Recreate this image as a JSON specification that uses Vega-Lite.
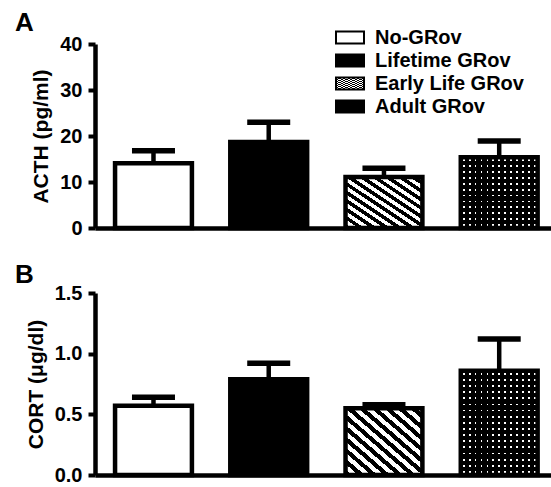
{
  "$schema": "https://vega.github.io/schema/vega-lite/v6.json",
  "padding": {"left": 15, "top": 10, "right": 0, "bottom": 5},
  "bounds": "flush",
  "spacing": 65,
  "datasets": {
    "acth": [
      {"group": "No-GRov", "value": 14.1, "upper": 16.8},
      {"group": "Lifetime GRov", "value": 18.7, "upper": 23.0},
      {"group": "Early Life GRov", "value": 11.1, "upper": 13.0},
      {"group": "Adult GRov", "value": 15.4, "upper": 18.9}
    ],
    "cort": [
      {"group": "No-GRov", "value": 0.57, "upper": 0.64},
      {"group": "Lifetime GRov", "value": 0.79, "upper": 0.92},
      {"group": "Early Life GRov", "value": 0.55, "upper": 0.58},
      {"group": "Adult GRov", "value": 0.86, "upper": 1.12}
    ]
  },
  "vconcat": [
    {
      "title": {"text": "A", "offset": -8.5},
      "width": 456,
      "height": 184,
      "data": {"name": "acth"},
      "encoding": {
        "x": {"field": "group", "type": "nominal", "sort": ["No-GRov", "Lifetime GRov", "Early Life GRov", "Adult GRov"], "scale": {"paddingInner": 0.333, "paddingOuter": 0.145, "align": 0.6}, "axis": {"labels": false, "ticks": false, "title": null}},
        "y": {"field": "value", "type": "quantitative", "title": "ACTH (pg/ml)", "scale": {"domain": [0, 40], "nice": false}, "axis": {"values": [0, 10, 20, 30, 40]}}
      },
      "layer": [
        {
          "mark": {"type": "bar", "stroke": "black", "strokeWidth": 4.5},
          "encoding": {
            "fill": {
              "field": "group", "type": "nominal",
              "scale": {
                "domain": ["No-GRov", "Lifetime GRov", "Early Life GRov", "Adult GRov"],
                "range": [
                  "#ffffff",
                  "#000000",
                  {"expr": "{gradient:'linear',x1:0,y1:1,x2:1,y2:0,stops:[{offset:0,color:'#000'},{offset:0.042,color:'#000'},{offset:0.042,color:'#fff'},{offset:0.083,color:'#fff'},{offset:0.083,color:'#000'},{offset:0.125,color:'#000'},{offset:0.125,color:'#fff'},{offset:0.167,color:'#fff'},{offset:0.167,color:'#000'},{offset:0.208,color:'#000'},{offset:0.208,color:'#fff'},{offset:0.25,color:'#fff'},{offset:0.25,color:'#000'},{offset:0.292,color:'#000'},{offset:0.292,color:'#fff'},{offset:0.333,color:'#fff'},{offset:0.333,color:'#000'},{offset:0.375,color:'#000'},{offset:0.375,color:'#fff'},{offset:0.417,color:'#fff'},{offset:0.417,color:'#000'},{offset:0.458,color:'#000'},{offset:0.458,color:'#fff'},{offset:0.5,color:'#fff'},{offset:0.5,color:'#000'},{offset:0.542,color:'#000'},{offset:0.542,color:'#fff'},{offset:0.583,color:'#fff'},{offset:0.583,color:'#000'},{offset:0.625,color:'#000'},{offset:0.625,color:'#fff'},{offset:0.667,color:'#fff'},{offset:0.667,color:'#000'},{offset:0.708,color:'#000'},{offset:0.708,color:'#fff'},{offset:0.75,color:'#fff'},{offset:0.75,color:'#000'},{offset:0.792,color:'#000'},{offset:0.792,color:'#fff'},{offset:0.833,color:'#fff'},{offset:0.833,color:'#000'},{offset:0.875,color:'#000'},{offset:0.875,color:'#fff'},{offset:0.917,color:'#fff'},{offset:0.917,color:'#000'},{offset:0.958,color:'#000'},{offset:0.958,color:'#fff'},{offset:1,color:'#fff'}]}"},
                  {"expr": "{gradient:'linear',x1:0,y1:0,x2:0,y2:1,stops:[{offset:0,color:'#000'},{offset:0.029,color:'#000'},{offset:0.029,color:'#fff'},{offset:0.054,color:'#fff'},{offset:0.054,color:'#000'},{offset:0.112,color:'#000'},{offset:0.112,color:'#fff'},{offset:0.138,color:'#fff'},{offset:0.138,color:'#000'},{offset:0.196,color:'#000'},{offset:0.196,color:'#fff'},{offset:0.221,color:'#fff'},{offset:0.221,color:'#000'},{offset:0.279,color:'#000'},{offset:0.279,color:'#fff'},{offset:0.304,color:'#fff'},{offset:0.304,color:'#000'},{offset:0.362,color:'#000'},{offset:0.362,color:'#fff'},{offset:0.388,color:'#fff'},{offset:0.388,color:'#000'},{offset:0.446,color:'#000'},{offset:0.446,color:'#fff'},{offset:0.471,color:'#fff'},{offset:0.471,color:'#000'},{offset:0.529,color:'#000'},{offset:0.529,color:'#fff'},{offset:0.554,color:'#fff'},{offset:0.554,color:'#000'},{offset:0.612,color:'#000'},{offset:0.612,color:'#fff'},{offset:0.638,color:'#fff'},{offset:0.638,color:'#000'},{offset:0.696,color:'#000'},{offset:0.696,color:'#fff'},{offset:0.721,color:'#fff'},{offset:0.721,color:'#000'},{offset:0.779,color:'#000'},{offset:0.779,color:'#fff'},{offset:0.804,color:'#fff'},{offset:0.804,color:'#000'},{offset:0.862,color:'#000'},{offset:0.862,color:'#fff'},{offset:0.888,color:'#fff'},{offset:0.888,color:'#000'},{offset:0.946,color:'#000'},{offset:0.946,color:'#fff'},{offset:0.971,color:'#fff'},{offset:0.971,color:'#000'},{offset:1,color:'#000'}]}"}
                ]
              },
              "legend": {
                "title": null, "orient": "none", "legendX": 245, "legendY": -16.5,
                "symbolType": "M-2,-0.86H2V0.86H-2Z", "symbolSize": 196,
                "symbolStrokeColor": "black", "symbolStrokeWidth": 2,
                "labelFontSize": 20, "labelFontWeight": "bold", "labelColor": "black",
                "labelOffset": 15, "rowPadding": 1, "padding": 0
              }
            }
          }
        },
        {
          "transform": [{"filter": "datum.group === 'Adult GRov'"}],
          "mark": {"type": "bar", "strokeWidth": 0, "fill": {"gradient": "linear", "x1": 0, "y1": 0, "x2": 1, "y2": 0, "stops": [
            {"offset": 0, "color": "#000"},
            {"offset": 0.027, "color": "#000"}, {"offset": 0.027, "color": "transparent"}, {"offset": 0.05, "color": "transparent"}, {"offset": 0.05, "color": "#000"},
            {"offset": 0.104, "color": "#000"}, {"offset": 0.104, "color": "transparent"}, {"offset": 0.127, "color": "transparent"}, {"offset": 0.127, "color": "#000"},
            {"offset": 0.181, "color": "#000"}, {"offset": 0.181, "color": "transparent"}, {"offset": 0.204, "color": "transparent"}, {"offset": 0.204, "color": "#000"},
            {"offset": 0.258, "color": "#000"}, {"offset": 0.258, "color": "transparent"}, {"offset": 0.281, "color": "transparent"}, {"offset": 0.281, "color": "#000"},
            {"offset": 0.335, "color": "#000"}, {"offset": 0.335, "color": "transparent"}, {"offset": 0.358, "color": "transparent"}, {"offset": 0.358, "color": "#000"},
            {"offset": 0.412, "color": "#000"}, {"offset": 0.412, "color": "transparent"}, {"offset": 0.435, "color": "transparent"}, {"offset": 0.435, "color": "#000"},
            {"offset": 0.488, "color": "#000"}, {"offset": 0.488, "color": "transparent"}, {"offset": 0.512, "color": "transparent"}, {"offset": 0.512, "color": "#000"},
            {"offset": 0.565, "color": "#000"}, {"offset": 0.565, "color": "transparent"}, {"offset": 0.588, "color": "transparent"}, {"offset": 0.588, "color": "#000"},
            {"offset": 0.642, "color": "#000"}, {"offset": 0.642, "color": "transparent"}, {"offset": 0.665, "color": "transparent"}, {"offset": 0.665, "color": "#000"},
            {"offset": 0.719, "color": "#000"}, {"offset": 0.719, "color": "transparent"}, {"offset": 0.742, "color": "transparent"}, {"offset": 0.742, "color": "#000"},
            {"offset": 0.796, "color": "#000"}, {"offset": 0.796, "color": "transparent"}, {"offset": 0.819, "color": "transparent"}, {"offset": 0.819, "color": "#000"},
            {"offset": 0.873, "color": "#000"}, {"offset": 0.873, "color": "transparent"}, {"offset": 0.896, "color": "transparent"}, {"offset": 0.896, "color": "#000"},
            {"offset": 0.95, "color": "#000"}, {"offset": 0.95, "color": "transparent"}, {"offset": 0.973, "color": "transparent"}, {"offset": 0.973, "color": "#000"},
            {"offset": 1, "color": "#000"}
          ]}}
        },
        {
          "mark": {"type": "rule", "color": "black", "strokeWidth": 4.5, "opacity": 1},
          "encoding": {"y2": {"field": "upper"}}
        },
        {
          "mark": {"type": "tick", "color": "black", "size": 43, "thickness": 5.5, "opacity": 1},
          "encoding": {"y": {"field": "upper", "type": "quantitative", "title": "ACTH (pg/ml)"}}
        }
      ]
    },
    {
      "title": {"text": "B", "offset": -5},
      "width": 456,
      "height": 182,
      "data": {"name": "cort"},
      "encoding": {
        "x": {"field": "group", "type": "nominal", "sort": ["No-GRov", "Lifetime GRov", "Early Life GRov", "Adult GRov"], "scale": {"paddingInner": 0.333, "paddingOuter": 0.145, "align": 0.6}, "axis": {"labels": false, "ticks": false, "title": null}},
        "y": {"field": "value", "type": "quantitative", "title": "CORT (μg/dl)", "scale": {"domain": [0, 1.5], "nice": false}, "axis": {"values": [0, 0.5, 1, 1.5], "format": ".1f"}}
      },
      "layer": [
        {
          "mark": {"type": "bar", "stroke": "black", "strokeWidth": 4.5},
          "encoding": {
            "fill": {
              "field": "group", "type": "nominal", "legend": null,
              "scale": {
                "domain": ["No-GRov", "Lifetime GRov", "Early Life GRov", "Adult GRov"],
                "range": [
                  "#ffffff",
                  "#000000",
                  {"expr": "{gradient:'linear',x1:0,y1:1,x2:1,y2:0,stops:[{offset:0,color:'#000'},{offset:0.042,color:'#000'},{offset:0.042,color:'#fff'},{offset:0.083,color:'#fff'},{offset:0.083,color:'#000'},{offset:0.125,color:'#000'},{offset:0.125,color:'#fff'},{offset:0.167,color:'#fff'},{offset:0.167,color:'#000'},{offset:0.208,color:'#000'},{offset:0.208,color:'#fff'},{offset:0.25,color:'#fff'},{offset:0.25,color:'#000'},{offset:0.292,color:'#000'},{offset:0.292,color:'#fff'},{offset:0.333,color:'#fff'},{offset:0.333,color:'#000'},{offset:0.375,color:'#000'},{offset:0.375,color:'#fff'},{offset:0.417,color:'#fff'},{offset:0.417,color:'#000'},{offset:0.458,color:'#000'},{offset:0.458,color:'#fff'},{offset:0.5,color:'#fff'},{offset:0.5,color:'#000'},{offset:0.542,color:'#000'},{offset:0.542,color:'#fff'},{offset:0.583,color:'#fff'},{offset:0.583,color:'#000'},{offset:0.625,color:'#000'},{offset:0.625,color:'#fff'},{offset:0.667,color:'#fff'},{offset:0.667,color:'#000'},{offset:0.708,color:'#000'},{offset:0.708,color:'#fff'},{offset:0.75,color:'#fff'},{offset:0.75,color:'#000'},{offset:0.792,color:'#000'},{offset:0.792,color:'#fff'},{offset:0.833,color:'#fff'},{offset:0.833,color:'#000'},{offset:0.875,color:'#000'},{offset:0.875,color:'#fff'},{offset:0.917,color:'#fff'},{offset:0.917,color:'#000'},{offset:0.958,color:'#000'},{offset:0.958,color:'#fff'},{offset:1,color:'#fff'}]}"},
                  {"expr": "{gradient:'linear',x1:0,y1:0,x2:0,y2:1,stops:[{offset:0,color:'#000'},{offset:0.021,color:'#000'},{offset:0.021,color:'#fff'},{offset:0.038,color:'#fff'},{offset:0.038,color:'#000'},{offset:0.08,color:'#000'},{offset:0.08,color:'#fff'},{offset:0.097,color:'#fff'},{offset:0.097,color:'#000'},{offset:0.138,color:'#000'},{offset:0.138,color:'#fff'},{offset:0.156,color:'#fff'},{offset:0.156,color:'#000'},{offset:0.197,color:'#000'},{offset:0.197,color:'#fff'},{offset:0.215,color:'#fff'},{offset:0.215,color:'#000'},{offset:0.256,color:'#000'},{offset:0.256,color:'#fff'},{offset:0.274,color:'#fff'},{offset:0.274,color:'#000'},{offset:0.315,color:'#000'},{offset:0.315,color:'#fff'},{offset:0.332,color:'#fff'},{offset:0.332,color:'#000'},{offset:0.374,color:'#000'},{offset:0.374,color:'#fff'},{offset:0.391,color:'#fff'},{offset:0.391,color:'#000'},{offset:0.432,color:'#000'},{offset:0.432,color:'#fff'},{offset:0.45,color:'#fff'},{offset:0.45,color:'#000'},{offset:0.491,color:'#000'},{offset:0.491,color:'#fff'},{offset:0.509,color:'#fff'},{offset:0.509,color:'#000'},{offset:0.55,color:'#000'},{offset:0.55,color:'#fff'},{offset:0.568,color:'#fff'},{offset:0.568,color:'#000'},{offset:0.609,color:'#000'},{offset:0.609,color:'#fff'},{offset:0.626,color:'#fff'},{offset:0.626,color:'#000'},{offset:0.668,color:'#000'},{offset:0.668,color:'#fff'},{offset:0.685,color:'#fff'},{offset:0.685,color:'#000'},{offset:0.726,color:'#000'},{offset:0.726,color:'#fff'},{offset:0.744,color:'#fff'},{offset:0.744,color:'#000'},{offset:0.785,color:'#000'},{offset:0.785,color:'#fff'},{offset:0.803,color:'#fff'},{offset:0.803,color:'#000'},{offset:0.844,color:'#000'},{offset:0.844,color:'#fff'},{offset:0.862,color:'#fff'},{offset:0.862,color:'#000'},{offset:0.903,color:'#000'},{offset:0.903,color:'#fff'},{offset:0.921,color:'#fff'},{offset:0.921,color:'#000'},{offset:0.962,color:'#000'},{offset:0.962,color:'#fff'},{offset:0.979,color:'#fff'},{offset:0.979,color:'#000'},{offset:1,color:'#000'}]}"}
                ]
              }
            }
          }
        },
        {
          "transform": [{"filter": "datum.group === 'Adult GRov'"}],
          "mark": {"type": "bar", "strokeWidth": 0, "fill": {"gradient": "linear", "x1": 0, "y1": 0, "x2": 1, "y2": 0, "stops": [
            {"offset": 0, "color": "#000"},
            {"offset": 0.027, "color": "#000"}, {"offset": 0.027, "color": "transparent"}, {"offset": 0.05, "color": "transparent"}, {"offset": 0.05, "color": "#000"},
            {"offset": 0.104, "color": "#000"}, {"offset": 0.104, "color": "transparent"}, {"offset": 0.127, "color": "transparent"}, {"offset": 0.127, "color": "#000"},
            {"offset": 0.181, "color": "#000"}, {"offset": 0.181, "color": "transparent"}, {"offset": 0.204, "color": "transparent"}, {"offset": 0.204, "color": "#000"},
            {"offset": 0.258, "color": "#000"}, {"offset": 0.258, "color": "transparent"}, {"offset": 0.281, "color": "transparent"}, {"offset": 0.281, "color": "#000"},
            {"offset": 0.335, "color": "#000"}, {"offset": 0.335, "color": "transparent"}, {"offset": 0.358, "color": "transparent"}, {"offset": 0.358, "color": "#000"},
            {"offset": 0.412, "color": "#000"}, {"offset": 0.412, "color": "transparent"}, {"offset": 0.435, "color": "transparent"}, {"offset": 0.435, "color": "#000"},
            {"offset": 0.488, "color": "#000"}, {"offset": 0.488, "color": "transparent"}, {"offset": 0.512, "color": "transparent"}, {"offset": 0.512, "color": "#000"},
            {"offset": 0.565, "color": "#000"}, {"offset": 0.565, "color": "transparent"}, {"offset": 0.588, "color": "transparent"}, {"offset": 0.588, "color": "#000"},
            {"offset": 0.642, "color": "#000"}, {"offset": 0.642, "color": "transparent"}, {"offset": 0.665, "color": "transparent"}, {"offset": 0.665, "color": "#000"},
            {"offset": 0.719, "color": "#000"}, {"offset": 0.719, "color": "transparent"}, {"offset": 0.742, "color": "transparent"}, {"offset": 0.742, "color": "#000"},
            {"offset": 0.796, "color": "#000"}, {"offset": 0.796, "color": "transparent"}, {"offset": 0.819, "color": "transparent"}, {"offset": 0.819, "color": "#000"},
            {"offset": 0.873, "color": "#000"}, {"offset": 0.873, "color": "transparent"}, {"offset": 0.896, "color": "transparent"}, {"offset": 0.896, "color": "#000"},
            {"offset": 0.95, "color": "#000"}, {"offset": 0.95, "color": "transparent"}, {"offset": 0.973, "color": "transparent"}, {"offset": 0.973, "color": "#000"},
            {"offset": 1, "color": "#000"}
          ]}}
        },
        {
          "mark": {"type": "rule", "color": "black", "strokeWidth": 4.5, "opacity": 1},
          "encoding": {"y2": {"field": "upper"}}
        },
        {
          "mark": {"type": "tick", "color": "black", "size": 43, "thickness": 5.5, "opacity": 1},
          "encoding": {"y": {"field": "upper", "type": "quantitative", "title": "CORT (μg/dl)"}}
        }
      ]
    }
  ],
  "resolve": {"scale": {"fill": "independent"}},
  "config": {
    "font": "Liberation Sans",
    "view": {"stroke": null},
    "axis": {
      "grid": false,
      "domainColor": "black", "domainWidth": 4.5,
      "tickColor": "black", "tickWidth": 4, "tickSize": 7,
      "labelColor": "black", "labelFontSize": 20, "labelFontWeight": "bold", "labelPadding": 6,
      "titleColor": "black", "titleFontSize": 21, "titleFontWeight": "bold", "titlePadding": 8
    },
    "title": {"fontSize": 26, "fontWeight": "bold", "anchor": "start", "frame": "group", "dx": -80, "baseline": "alphabetic", "color": "black"}
  }
}
